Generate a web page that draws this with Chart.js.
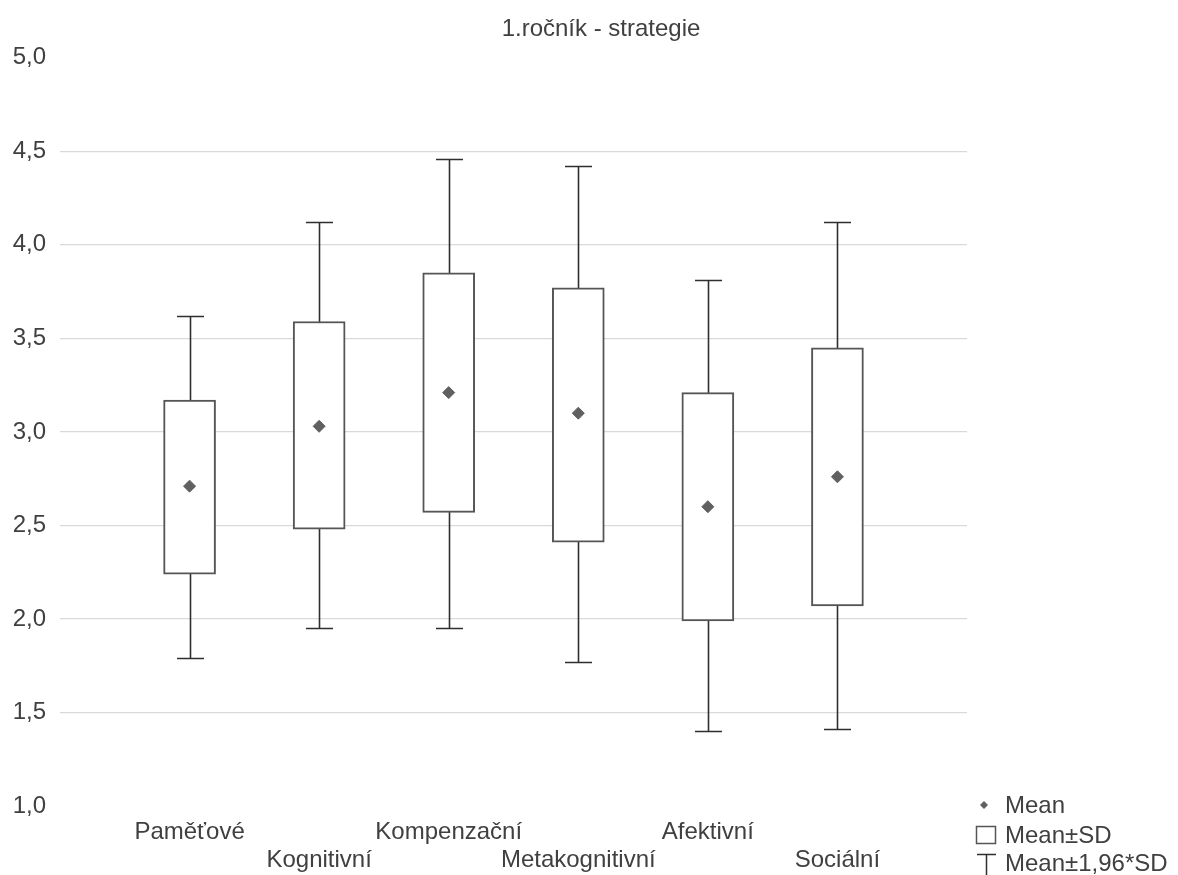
<!DOCTYPE html>
<html><head><meta charset="utf-8">
<script src="https://cdn.jsdelivr.net/npm/chart.js@4.4.1/dist/chart.umd.min.js"></script>
<style>html,body{margin:0;padding:0;background:#fff;overflow:hidden}</style>
</head><body>
<canvas id="c" width="1178" height="875"></canvas>
<script>
const categories = ['Paměťové', 'Kognitivní', 'Kompenzační', 'Metakognitivní', 'Afektivní', 'Sociální'];
const means  = [2.71, 3.03, 3.21, 3.10, 2.60, 2.76];
const sdLow  = [2.24, 2.48, 2.57, 2.41, 1.99, 2.07];
const sdHigh = [3.17, 3.59, 3.85, 3.77, 3.21, 3.45];
const ciLow  = [1.79, 1.95, 1.95, 1.77, 1.40, 1.41];
const ciHigh = [3.62, 4.12, 4.46, 4.42, 3.81, 4.12];
const yMin = 1.0, yMax = 5.0, yStep = 0.5;
const legendLabels = ['Mean', 'Mean±SD', 'Mean±1,96*SD'];
const titleText = '1.ročník - strategie';

const FONT = '"Liberation Sans", Arial, sans-serif';
const TEXT = '#404040';
Chart.defaults.font.family = FONT;

const labels = ['', ...categories, ''];

const whiskers = {
  id: 'whiskers',
  beforeDatasetsDraw(chart) {
    const {ctx, scales: {x, y}} = chart;
    ctx.save();
    ctx.strokeStyle = '#2f2f2f';
    ctx.lineWidth = 1.6;
    categories.forEach((c, i) => {
      const px = Math.round(x.getPixelForValue(i + 1)) + 0.5;
      const yl = Math.round(y.getPixelForValue(ciLow[i])) + 0.5;
      const yh = Math.round(y.getPixelForValue(ciHigh[i])) + 0.5;
      ctx.beginPath();
      ctx.moveTo(px, yl); ctx.lineTo(px, yh);
      ctx.moveTo(px - 13.5, yl); ctx.lineTo(px + 13.5, yl);
      ctx.moveTo(px - 13.5, yh); ctx.lineTo(px + 13.5, yh);
      ctx.stroke();
    });
    ctx.restore();
  }
};

const customLegend = {
  id: 'customLegend',
  afterDraw(chart) {
    const {ctx, chartArea: a} = chart;
    const sx = a.right + 9;
    const tx = a.right + 38;
    const rows = [a.bottom - 1, a.bottom + 29, a.bottom + 57];
    ctx.save();
    ctx.fillStyle = '#606060';
    const dx = sx + 8, dy = rows[0];
    ctx.beginPath();
    ctx.moveTo(dx, dy - 4); ctx.lineTo(dx + 4, dy); ctx.lineTo(dx, dy + 4); ctx.lineTo(dx - 4, dy); ctx.closePath();
    ctx.fill();
    ctx.strokeStyle = '#555';
    ctx.lineWidth = 1.5;
    ctx.strokeRect(sx + 0.5, rows[1] - 8.5, 19, 17);
    ctx.strokeStyle = '#2f2f2f';
    ctx.beginPath();
    ctx.moveTo(sx + 1, rows[2] - 8.5); ctx.lineTo(sx + 20, rows[2] - 8.5);
    ctx.moveTo(sx + 10.5, rows[2] - 8.5); ctx.lineTo(sx + 10.5, chart.height);
    ctx.stroke();
    ctx.fillStyle = TEXT;
    ctx.font = '24px ' + FONT;
    ctx.textBaseline = 'middle';
    ctx.textAlign = 'left';
    legendLabels.forEach((t, i) => ctx.fillText(t, tx, rows[i] + 1));
    ctx.restore();
  }
};

new Chart(document.getElementById('c'), {
  data: {
    labels,
    datasets: [
      {
        type: 'line',
        label: legendLabels[0],
        data: [null, ...means, null],
        showLine: false,
        pointStyle: 'rectRot',
        pointRadius: 6,
        pointHoverRadius: 6,
        pointBackgroundColor: '#606060',
        pointBorderColor: '#606060',
        pointBorderWidth: 1,
        order: 0
      },
      {
        type: 'bar',
        label: legendLabels[1],
        data: [null, ...sdLow.map((l, i) => [l, sdHigh[i]]), null],
        backgroundColor: '#ffffff',
        borderColor: '#555555',
        borderWidth: 2,
        borderSkipped: false,
        barThickness: 52,
        order: 1
      }
    ]
  },
  options: {
    responsive: false,
    animation: false,
    devicePixelRatio: 1,
    layout: {padding: {left: 0, right: -24, top: 0, bottom: 0}},
    plugins: {
      legend: {display: false},
      tooltip: {enabled: false},
      title: {
        display: true,
        text: titleText,
        color: TEXT,
        font: {size: 24, weight: 'normal', family: FONT},
        padding: {top: 15, bottom: 14}
      }
    },
    scales: {
      x: {
        type: 'category',
        offset: false,
        grid: {display: false, drawTicks: false},
        border: {display: false},
        ticks: {
          autoSkip: false,
          maxRotation: 0,
          minRotation: 0,
          color: TEXT,
          font: {size: 24, lineHeight: 1.15},
          padding: 13,
          callback: function (value, index) {
            const lab = labels[index];
            return (index % 2 === 0 && lab) ? ['', lab] : lab;
          }
        },
        afterFit: s => { s.height = 69; }
      },
      y: {
        type: 'linear',
        position: 'left',
        min: yMin,
        max: yMax,
        grid: {
          drawTicks: false,
          lineWidth: 1.2,
          color: ctx => (ctx.tick && (ctx.tick.value === yMin || ctx.tick.value === yMax)) ? 'rgba(0,0,0,0)' : '#d9d9d9'
        },
        border: {display: false},
        ticks: {
          stepSize: yStep,
          color: TEXT,
          font: {size: 24},
          padding: 14,
          callback: v => v.toFixed(1).replace('.', ',')
        },
        afterFit: s => { s.width = 60; }
      },
      yRight: {
        type: 'linear',
        position: 'right',
        display: true,
        grid: {display: false, drawTicks: false},
        border: {display: false},
        ticks: {display: false},
        afterFit: s => { s.width = 235; }
      }
    }
  },
  plugins: [whiskers, customLegend]
});
</script>
</body></html>
